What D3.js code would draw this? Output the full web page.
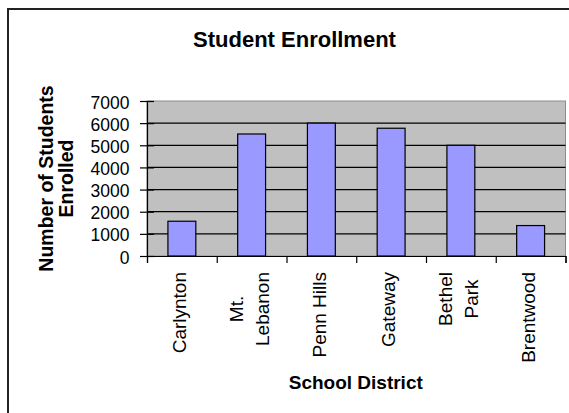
<!DOCTYPE html>
<html>
<head>
<meta charset="utf-8">
<script src="https://cdn.jsdelivr.net/npm/d3@7"></script>
<style>
  html, body { margin: 0; padding: 0; background: #fff; }
  svg { display: block; font-family: "Liberation Sans", Arial, sans-serif; }
</style>
</head>
<body>
<script>
// Enrollment per school district
const districts = [["Carlynton"], ["Mt.", "Lebanon"], ["Penn Hills"], ["Gateway"], ["Bethel", "Park"], ["Brentwood"]];
const enrolled = [1570, 5510, 6000, 5770, 5000, 1375];
const yTicks = [0, 1000, 2000, 3000, 4000, 5000, 6000, 7000];

const W = 569, H = 413;
const plot = { left: 147, right: 565.5, top: 101, bottom: 256 };

const svg = d3.select("body").append("svg").attr("width", W).attr("height", H);

// outer chart frame
svg.append("rect")
  .attr("x", 8).attr("y", 9).attr("width", 620).attr("height", 520)
  .attr("fill", "none").attr("stroke", "#222").attr("stroke-width", 2);

const keys = districts.map(d => d.join(" "));
const x = d3.scaleBand().domain(keys).range([plot.left, plot.right])
  .paddingInner(0.6).paddingOuter(0.3);
const xEdges = d3.scaleLinear().domain([0, keys.length]).range([plot.left, plot.right]);
const y = d3.scaleLinear().domain([0, 7000]).range([plot.bottom, plot.top]);

// plot area
svg.append("rect")
  .attr("x", plot.left).attr("y", plot.top)
  .attr("width", plot.right - plot.left).attr("height", plot.bottom - plot.top)
  .attr("fill", "#c0c0c0").attr("stroke", "#8c8c8c").attr("stroke-width", 1);

// horizontal gridlines
svg.append("g").selectAll("line")
  .data(yTicks.filter(v => v > 0 && v < 7000))
  .join("line")
  .attr("x1", plot.left).attr("x2", plot.right)
  .attr("y1", d => y(d)).attr("y2", d => y(d))
  .attr("stroke", "#000").attr("stroke-width", 1.2);

// bars
svg.append("g").selectAll("rect")
  .data(keys.map((k, i) => ({ k, v: enrolled[i] })))
  .join("rect")
  .attr("x", d => x(d.k)).attr("width", x.bandwidth())
  .attr("y", d => y(d.v)).attr("height", d => y(0) - y(d.v))
  .attr("fill", "#9999ff").attr("stroke", "#000").attr("stroke-width", 1.2);

// value axis
const yAxis = svg.append("g")
  .attr("transform", `translate(${plot.left},0)`)
  .call(d3.axisLeft(y).tickValues(yTicks).tickSize(7).tickFormat(d3.format("d")));
yAxis.select(".domain").attr("stroke", "#000").attr("stroke-width", 1.2);
yAxis.selectAll(".tick line").attr("x1", 7).attr("stroke", "#000").attr("stroke-width", 1.2);
yAxis.selectAll(".tick text")
  .attr("x", -17.5).attr("dy", "0.4em")
  .attr("fill", "#000").style("font-size", "17.5px")
  .style("font-family", "'Liberation Sans', Arial, sans-serif");

// category axis
const xAxis = svg.append("g")
  .attr("transform", `translate(0,${plot.bottom})`)
  .call(d3.axisBottom(xEdges).tickValues(d3.range(keys.length + 1)).tickSize(7).tickFormat(""));
xAxis.select(".domain").attr("stroke", "#000").attr("stroke-width", 1.2);
xAxis.selectAll(".tick line").attr("stroke", "#000").attr("stroke-width", 1.2);

// rotated category labels, lines centred within a block whose top sits under the axis
const labelTop = 272, lineGap = 26;
const labels = svg.append("g").style("font-size", "19px").attr("fill", "#000");
districts.forEach((lines, i) => {
  const cx = x(keys[i]) + x.bandwidth() / 2;
  const g = labels.append("g");
  const texts = lines.map((line, j) => {
    const base = cx + 4.3 + (j - (lines.length - 1) / 2) * lineGap;
    return g.append("text").text(line).attr("text-anchor", "middle")
      .attr("data-base", base);
  });
  const longest = d3.max(texts, t => t.node().getComputedTextLength());
  const mid = labelTop + longest / 2;
  texts.forEach(t => {
    t.attr("transform", `translate(${t.attr("data-base")},${mid}) rotate(-90)`)
      .attr("data-base", null);
  });
});

// titles
svg.append("text")
  .attr("x", 294.5).attr("y", 46.7).attr("text-anchor", "middle")
  .style("font-size", "22px").style("font-weight", "bold")
  .text("Student Enrollment");

svg.append("text")
  .attr("x", (plot.left + plot.right) / 2 - 0.5).attr("y", 389.3).attr("text-anchor", "middle")
  .style("font-size", "19px").style("font-weight", "bold")
  .text("School District");

const yTitle = svg.append("text")
  .attr("transform", `translate(53.2,${(plot.top + plot.bottom) / 2}) rotate(-90)`)
  .attr("text-anchor", "middle")
  .style("font-size", "19.5px").style("font-weight", "bold");
yTitle.append("tspan").attr("x", 0).attr("dy", 0).text("Number of Students");
yTitle.append("tspan").attr("x", 0).attr("dy", 20.3).text("Enrolled");
</script>
</body>
</html>
